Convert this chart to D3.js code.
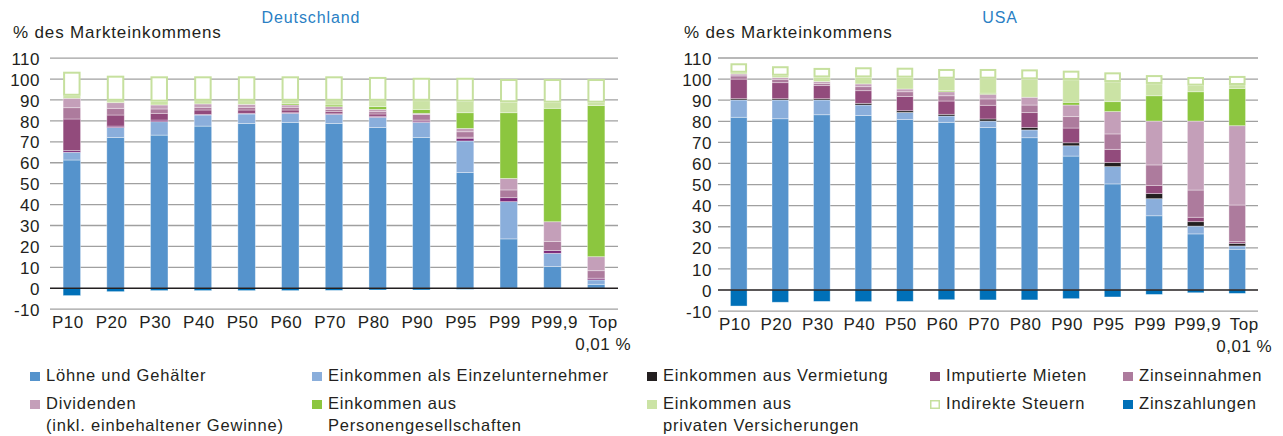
<!DOCTYPE html>
<html lang="de">
<head>
  <meta charset="utf-8">
  <title>Markteinkommen – Deutschland und USA</title>
  <script src="https://d3js.org/d3.v7.min.js"></script>
  <style>
    html, body { margin: 0; padding: 0; background: #fff; }
    svg { display: block; }
    text { font-family: "Liberation Sans", Arial, sans-serif; fill: #231f20; }
    .tick-label { font-size: 17px; letter-spacing: 0.5px; }
    .unit { font-size: 17px; letter-spacing: 0.85px; }
    .title { font-size: 16px; letter-spacing: 0.9px; fill: #2a7fc4; }
    .legend text { font-size: 16.5px; letter-spacing: 0.8px; }
    .grid line { stroke: #a0a0a0; stroke-width: 1.3px; }
    .zero { stroke: #231f20; stroke-width: 1.5px; }
  </style>
</head>
<body>
  <svg width="1283" height="436"></svg>
  <script>
    // Kategorien und Achsen
    const categories = ["P10", "P20", "P30", "P40", "P50", "P60", "P70", "P80", "P90", "P95", "P99", "P99,9", "Top 0,01 %"];
    const yTicks = [-10, 0, 10, 20, 30, 40, 50, 60, 70, 80, 90, 100, 110];

    const seriesKeys = ["loehne", "einzel", "vermietung", "imputiert", "zinsein", "dividenden", "personen", "privat", "indirekt", "zinszahl"];
    const seriesNames = ["Löhne und Gehälter", "Einkommen als Einzelunternehmer", "Einkommen aus Vermietung",
      "Imputierte Mieten", "Zinseinnahmen", "Dividenden\n(inkl. einbehaltener Gewinne)",
      "Einkommen aus\nPersonengesellschaften", "Einkommen aus\nprivaten Versicherungen",
      "Indirekte Steuern", "Zinszahlungen"];
    const seriesColors = ["#5593cc", "#8aaedb", "#231f20", "#924b7c", "#ad7b9d", "#c49fb9", "#8cc63f", "#cbe3a5", "#ffffff", "#0070b8"];

    // Deutschland
    const deLoehne     = [61.3, 72.0, 73.2, 77.5, 78.8, 79.3, 78.8, 76.8, 72.0, 55.3, 23.6, 10.4, 1.9];
    const deEinzel     = [3.7, 4.8, 6.4, 5.3, 4.5, 4.3, 4.3, 4.9, 7.3, 15.1, 17.8, 6.3, 2.1];
    const deVermietung = [0.8, 0.7, 0.8, 0.3, 0.3, 0.3, 0.3, 0.5, 0.6, 1.3, 1.9, 1.3, 0.8];
    const deImputiert  = [15.1, 5.3, 3.2, 2.1, 1.6, 1.3, 1.0, 1.1, 0.5, 0.5, 0, 0, 0];
    const deZinsein    = [5.4, 3.2, 2.1, 1.3, 1.3, 1.3, 1.1, 1.1, 2.7, 2.6, 3.7, 4.3, 3.6];
    const deDividenden = [4.5, 2.7, 1.9, 1.6, 1.4, 1.1, 1.3, 1.1, 0.5, 1.6, 5.5, 9.5, 6.7];
    const dePersonen   = [0, 0, 0, 0, 0, 0.6, 0.8, 1.3, 1.9, 7.5, 31.4, 54.2, 72.2];
    const dePrivat     = [1.2, 0.9, 1.6, 1.5, 1.7, 1.4, 2.0, 2.8, 4.1, 5.3, 5.0, 2.7, 1.4];
    const deIndirekt   = [11.5, 12.0, 12.1, 11.7, 11.7, 11.7, 11.7, 11.4, 11.0, 11.4, 11.1, 11.3, 11.3];
    const deZinszahl   = [-3.5, -1.6, -1.1, -1.1, -1.1, -1.1, -1.0, -0.8, -0.8, -0.5, -0.2, -0.2, -0.3];

    // USA
    const usLoehne     = [81.9, 81.2, 83.1, 82.7, 80.8, 79.5, 77.1, 72.2, 63.5, 50.3, 35.2, 26.6, 19.3];
    const usEinzel     = [8.2, 8.9, 7.0, 5.0, 3.4, 3.0, 3.0, 3.7, 4.9, 8.2, 8.1, 3.7, 1.6];
    const usVermietung = [0.6, 0.6, 0.6, 0.8, 0.8, 0.8, 1.0, 1.1, 1.4, 1.9, 2.4, 2.1, 1.2];
    const usImputiert  = [9.3, 7.6, 6.2, 6.0, 6.7, 6.3, 6.5, 7.1, 7.0, 6.3, 3.8, 2.1, 0.8];
    const usZinsein    = [1.5, 1.6, 1.1, 1.9, 2.3, 2.5, 3.0, 3.6, 5.4, 7.3, 9.8, 12.9, 17.4];
    const usDividenden = [0.9, 0.8, 0.8, 1.3, 1.3, 1.9, 2.2, 3.7, 5.5, 10.6, 20.8, 32.7, 37.6];
    const usPersonen   = [0, 0, 0, 0, 0, 0.5, 0.5, 0, 1.3, 4.7, 12.0, 13.9, 17.7];
    const usPrivat     = [0.6, 0.9, 2.0, 3.1, 5.4, 5.7, 6.9, 8.5, 10.6, 9.3, 5.6, 2.9, 1.6];
    const usIndirekt   = [4.5, 4.5, 4.5, 4.8, 4.7, 4.6, 4.6, 4.7, 4.4, 4.6, 4.2, 4.1, 4.3];
    const usZinszahl   = [-7.6, -5.8, -5.4, -5.5, -5.4, -4.6, -4.7, -4.7, -4.1, -3.3, -2.1, -1.3, -1.6];

    const deSeries = [deLoehne, deEinzel, deVermietung, deImputiert, deZinsein, deDividenden, dePersonen, dePrivat, deIndirekt, deZinszahl];
    const usSeries = [usLoehne, usEinzel, usVermietung, usImputiert, usZinsein, usDividenden, usPersonen, usPrivat, usIndirekt, usZinszahl];

    function toRows(series) {
      return categories.map((c, i) => {
        const row = { cat: c };
        seriesKeys.forEach((k, j) => row[k] = series[j][i]);
        return row;
      });
    }

    const svg = d3.select("svg");
    const color = d3.scaleOrdinal(seriesKeys, seriesColors);

    // kleine Verschiebung der Kategorienbeschriftung wie im Original
    const labelShift = d => d.startsWith("Top") ? 7 : (d === "P99,9" ? 2 : -4);

    function drawPanel(opt) {
      const g = svg.append("g");
      const x = d3.scaleBand().domain(categories).range([opt.x0, opt.x1]).paddingInner(0.6).paddingOuter(0.3);
      const y = d3.scaleLinear().domain([-10, 110]).range([opt.yBottom, opt.yTop]);

      // Gitterlinien
      g.append("g").attr("class", "grid")
        .selectAll("line").data(yTicks.filter(t => t !== 0)).join("line")
        .attr("x1", opt.x0).attr("x2", opt.x1)
        .attr("y1", d => y(d)).attr("y2", d => y(d));

      // y-Achse
      const yAxis = g.append("g")
        .attr("transform", `translate(${opt.labelX},0)`)
        .call(d3.axisLeft(y).tickValues(yTicks).tickSize(0).tickPadding(0).tickFormat(d => String(d)));
      yAxis.select(".domain").remove();
      yAxis.selectAll("text").attr("class", "tick-label").attr("dy", "0.36em");

      const stacked = d3.stack().keys(seriesKeys).offset(d3.stackOffsetDiverging)(toRows(opt.series));

      g.append("g").selectAll("g").data(stacked).join("g")
        .each(function (layer) {
          const isBox = layer.key === "indirekt";
          const fill = (opt.colorOverride && opt.colorOverride[layer.key]) || color(layer.key);
          d3.select(this).selectAll("rect").data(layer).join("rect")
            .attr("x", d => x(d.data.cat) + (isBox ? 1 : 0))
            .attr("width", x.bandwidth() - (isBox ? 2 : 0))
            .attr("y", d => y(Math.max(d[0], d[1])) + (isBox ? 1 : 0))
            .attr("height", d => Math.max(0, Math.abs(y(d[0]) - y(d[1])) - (isBox ? 2 : 0)))
            .attr("fill", fill)
            .attr("stroke", isBox ? "#c6e09e" : "#ffffff")
            .attr("stroke-width", isBox ? 2 : 0.8)
            .attr("stroke-opacity", isBox ? 1 : 0.45);
        });

      // Nulllinie
      g.append("line").attr("class", "zero")
        .attr("x1", opt.x0).attr("x2", opt.x1)
        .attr("y1", y(0)).attr("y2", y(0));

      // x-Beschriftung
      const xl = g.append("g").selectAll("text").data(categories).join("text")
        .attr("class", "tick-label")
        .attr("text-anchor", "middle")
        .attr("x", d => x(d) + x.bandwidth() / 2 + labelShift(d))
        .attr("y", opt.yBottom + 19);
      xl.each(function (d) {
        const parts = d.startsWith("Top") ? ["Top", "0,01 %"] : [d];
        d3.select(this).selectAll("tspan").data(parts).join("tspan")
          .attr("x", d3.select(this).attr("x"))
          .attr("dy", (p, i) => i ? 22 : 0)
          .text(p => p);
      });

      g.append("text").attr("class", "unit").attr("x", opt.unitX).attr("y", 38)
        .text("% des Markteinkommens");
      g.append("text").attr("class", "title").attr("text-anchor", "middle")
        .attr("x", opt.titleX).attr("y", 23).text(opt.title);
    }

    drawPanel({ series: deSeries, x0: 50, x1: 618, yBottom: 309.2, yTop: 58.1, labelX: 40, unitX: 13,
      title: "Deutschland", titleX: 311, colorOverride: { vermietung: "#7d2a78" } });
    drawPanel({ series: usSeries, x0: 718, x1: 1258, yBottom: 311.1, yTop: 58.0, labelX: 712, unitX: 684,
      title: "USA", titleX: 1000 });

    // Legende
    const legendCols = [30, 312, 647, 930, 1123];
    const legendRows = [381, 409];
    const legend = svg.append("g").attr("class", "legend");
    seriesKeys.forEach((key, n) => {
      const col = n % 5, row = Math.floor(n / 5);
      const item = legend.append("g").attr("transform", `translate(${legendCols[col]},${legendRows[row]})`);
      const isBox = key === "indirekt";
      item.append("rect")
        .attr("x", isBox ? 0.75 : 0).attr("y", isBox ? -8.25 : -9)
        .attr("width", isBox ? 8.5 : 10).attr("height", isBox ? 7.5 : 9)
        .attr("fill", seriesColors[n])
        .attr("stroke", isBox ? "#c6e09e" : "none").attr("stroke-width", 1.5);
      const t = item.append("text").attr("x", 16).attr("y", 0);
      t.selectAll("tspan").data(seriesNames[n].split("\n")).join("tspan")
        .attr("x", 16).attr("dy", (p, i) => i ? 22 : 0).text(p => p);
    });
  </script>
</body>
</html>
